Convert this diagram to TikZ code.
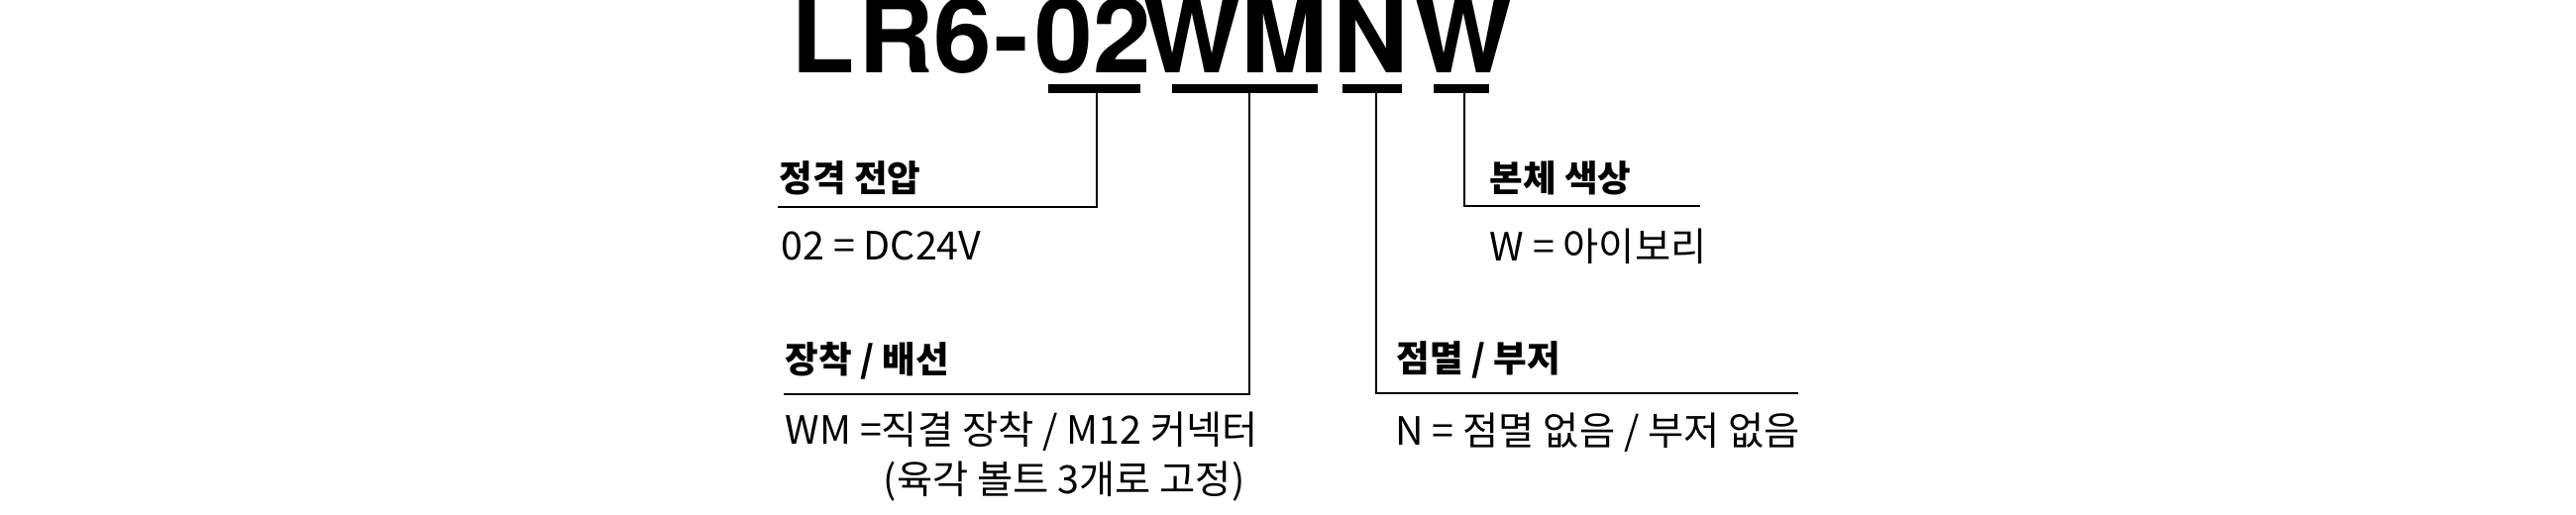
\documentclass[tikz,border=0pt]{standalone}
\usepackage{fontspec}
\setmainfont{Noto Sans CJK KR}
\newfontfamily\codefont{TeX Gyre Heros}

\tikzset{
  codepart/.style={inner sep=0, anchor=base, font=\codefont\bfseries\fontsize{30pt}{31pt}\selectfont},
  codebar/.style={fill=black, inner sep=0, minimum height=0.9mm},
  heading/.style={inner sep=0, anchor=base west, font=\bfseries\fontsize{10.4pt}{12pt}\selectfont},
  desc/.style={inner sep=0, anchor=base west, font=\fontsize{11.2pt}{13pt}\selectfont},
  leadline/.style={line width=0.2mm},
}

\begin{document}
\begin{tikzpicture}[x=0.1mm, y=-0.1mm]
  \useasboundingbox (0,0) rectangle (2600,520);

  % model code and its parts
  \node [codepart] (code-0) at (919,74) {L\kern0.3mm R6\kern0.3mm -};
  \foreach \c/\x [count=\i] in {02/1103, WM/1247, N/1384, W/1477}
    \node [codepart] (code-\i) at (\x,74) {\c};

  % bars under the parts
  \foreach \x/\w [count=\i] in {1104.5/93, 1256.5/147, 1385/60, 1475/56}
    \node [codebar, minimum width=\w*0.1mm] (bar-\i) at (\x,89.5) {};

  % leader lines
  \foreach \v/\y/\e [count=\i] in {1107/209/785, 1261/398/791, 1389/397/1815, 1478/208/1716}
  {
    \coordinate (tap-\i) at (\v,94);
    \coordinate (rule-\i) at (\e,\y);
    \draw [leadline] (tap-\i) |- (rule-\i);
  }

  % labels
  \node [heading] (volt-head) at (786,194) {정격 전압};
  \node [desc] (volt-desc) at (788,263) {02 = DC24V};

  \node [heading] (mount-head) at (792,377) {장착 / 배선};
  \node [desc] (mount-desc) at (792,449) {WM =직결 장착 / M12 커넥터};
  \node [desc] (mount-note) at (891,499) {(육각 볼트 3개로 고정)};

  \node [heading] (color-head) at (1503,194) {본체 색상};
  \node [desc] (color-desc) at (1503,264) {W = 아이보리};

  \node [heading] (alarm-head) at (1409,376) {점멸 / 부저};
  \node [desc] (alarm-desc) at (1408,450) {N = 점멸 없음 / 부저 없음};

\end{tikzpicture}
\end{document}
